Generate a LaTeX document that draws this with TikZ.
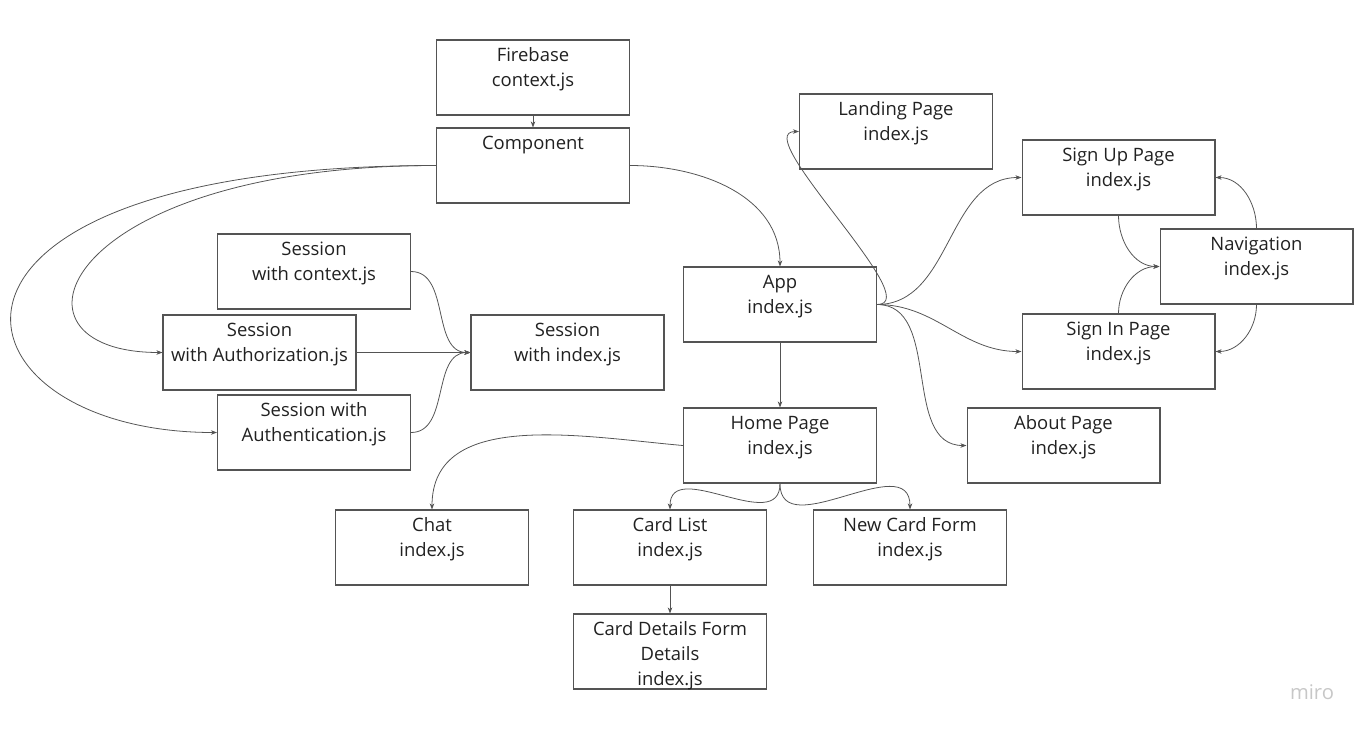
\documentclass[tikz,border=0pt]{standalone}
\usepackage{fontspec}
\setmainfont{Open Sans}
\usepackage{tikz}
\usetikzlibrary{arrows.meta}
\usetikzlibrary{positioning}
\definecolor{mline}{rgb}{0.33, 0.33, 0.33}
\definecolor{mtext}{rgb}{0.13, 0.13, 0.13}
\tikzset{box/.style = {draw = mline, line width = 0.6pt, minimum width = 3.86cm, minimum height = 1.5cm, inner sep = 0,
    label = {[anchor = north, yshift = -4.6pt, inner sep = 0, align = center, text = mtext,
      font = \fontsize{10.5}{14.2}\selectfont]north:#1}}}
\tikzset{link/.style = {draw = mline, line width = 0.45pt, -{Stealth[length = 3.5pt, width = 2.6pt]}}}

\begin{document}
\begin{tikzpicture}[x = 0.02cm, y = -0.02cm]
      \useasboundingbox (0, 0) rectangle (1366, 731);

      \node [box = {Firebase\\context.js}] (fire) at (533, 77.5) {};
      \node [box = {Component}] (comp) at (533, 165.5) {};
      \node [box = {Landing Page\\index.js}] (land) at (896, 131.5) {};
      \node [box = {Sign Up Page\\index.js}] (signup) at (1118.5, 177.5) {};
      \node [box = {Navigation\\index.js}] (nav) at (1256.5, 266.5) {};
      \node [box = {Sign In Page\\index.js}] (signin) at (1118.5, 351.5) {};
      \node [box = {App\\index.js}] (app) at (780, 304.5) {};
      \node [box = {Session\\with context.js}] (sctx) at (314, 271.5) {};
      \node [box = {Session\\with Authorization.js}] (sauthz) at (259.5, 352.5) {};
      \node [box = {Session\\with index.js}] (sidx) at (567.5, 352.5) {};
      \node [box = {Session with\\Authentication.js}] (sauthn) at (314, 432.5) {};
      \node [box = {Home Page\\index.js}] (home) at (780, 445.5) {};
      \node [box = {About Page\\index.js}] (about) at (1063.5, 445.5) {};
      \node [box = {Chat\\index.js}] (chat) at (432, 547.5) {};
      \node [box = {Card List\\index.js}] (clist) at (670, 547.5) {};
      \node [box = {New Card Form\\index.js}] (newc) at (910, 547.5) {};
      \node [box = {Card Details Form\\Details\\index.js}] (cdet) at (670, 651.5) {};

      \draw [link] (fire) -- (comp);
      \draw [link] (comp.east) to [out = 0, in = 90] (app.north);
      \draw [link] (comp.west) .. controls (60, 165.5) and (-10, 352.5) .. (sauthz.west);
      \draw [link] (comp.west) .. controls (-120, 165.5) and (-60, 432.5) .. (sauthn.west);

      \draw [link] (sctx.east) to [out = 0, in = 180] (sidx.west);
      \draw [link] (sauthz.east) -- (sidx.west);
      \draw [link] (sauthn.east) to [out = 0, in = 180] (sidx.west);

      \draw [link] (app.east) to [out = 0, in = 180, looseness = 0.7] (land.west);
      \draw [link] (app.east) to [out = 0, in = 180] (signup.west);
      \draw [link] (app.east) to [out = 0, in = 180] (signin.west);
      \draw [link] (app.east) to [out = 0, in = 180] (about.west);
      \draw [link] (app) -- (home);

      \draw [link] (signup.south) to [out = -90, in = 180] (nav.west);
      \draw [link] (signin.north) to [out = 90, in = 180] (nav.west);
      \draw [link] (nav.north) to [out = 90, in = 0] (signup.east);
      \draw [link] (nav.south) to [out = -90, in = 0] (signin.east);

      \draw [link] (home.west) to [out = 175, in = 90] (chat.north);
      \draw [link] (home.south) to [out = -90, in = 90, looseness = 1.2] (clist.north);
      \draw [link] (home.south) to [out = -90, in = 90, looseness = 1.2] (newc.north);
      \draw [link] (clist) -- (cdet);

      \node [text = black!22, font = \fontsize{11.5}{11.5}\selectfont] (logo) at (1312, 692) {miro};
    \end{tikzpicture}
\end{document}
